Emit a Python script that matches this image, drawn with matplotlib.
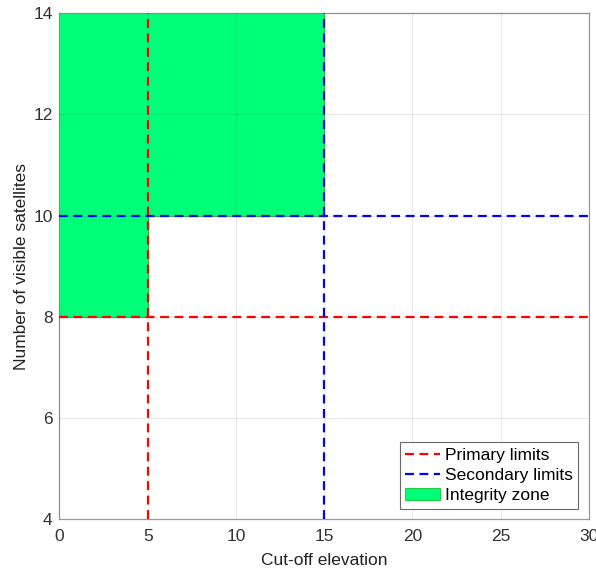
import matplotlib
matplotlib.use("Agg")
import matplotlib.pyplot as plt
from matplotlib.patches import Polygon

plt.rcParams['font.family'] = ['Liberation Sans', 'DejaVu Sans']

# Data
primary_x = 5
primary_y = 8
secondary_x = 15
secondary_y = 10
zone_x = [0, 5, 5, 15, 15, 0]
zone_y = [8, 8, 10, 10, 14, 14]
xlim = (0, 30)
ylim = (4, 14)
xticks = [0, 5, 10, 15, 20, 25, 30]
yticks = [4, 6, 8, 10, 12, 14]

fig = plt.figure(figsize=(5.96, 5.72), dpi=100)
ax = fig.add_axes([0.0998, 0.0927, 0.888, 0.884])

zone = Polygon(list(zip(zone_x, zone_y)), closed=True, facecolor='#00FF78',
               edgecolor='#22CC44', linewidth=0.8, zorder=1, label='Integrity zone')
ax.add_patch(zone)

ax.axvline(primary_x, color='#FF0000', ls=(0, (4, 2.5)), lw=1.6, zorder=3)
ax.axhline(primary_y, color='#FF0000', ls=(0, (4, 2.5)), lw=1.6, zorder=3, label='Primary limits')
ax.axvline(secondary_x, color='#0000FF', ls=(0, (4, 2.5)), lw=1.6, zorder=3)
ax.axhline(secondary_y, color='#0000FF', ls=(0, (4, 2.5)), lw=1.6, zorder=3, label='Secondary limits')

ax.set_xlim(*xlim)
ax.set_ylim(*ylim)
ax.set_xticks(xticks)
ax.set_yticks(yticks)
ax.grid(True, color='#262626', alpha=0.1, lw=0.8, zorder=2)
ax.set_axisbelow(False)
for s in ax.spines.values():
    s.set_color('#9A9A9A')
    s.set_linewidth(0.9)
ax.tick_params(direction='in', length=0, labelsize=12.5, colors='#333333')
ax.tick_params(axis='y', pad=5)
ax.tick_params(axis='x', pad=7)

ax.set_xlabel('Cut-off elevation', fontsize=12.5, color='#222222', labelpad=7)
ax.set_ylabel('Number of visible satellites', fontsize=12.5, color='#222222', labelpad=3)

h, l = ax.get_legend_handles_labels()
order = [l.index('Primary limits'), l.index('Secondary limits'), l.index('Integrity zone')]
leg = ax.legend([h[i] for i in order], [l[i] for i in order], loc='lower right',
                fontsize=12.5, frameon=True, fancybox=False, edgecolor='#444444',
                borderaxespad=0.6, handlelength=2.0, handletextpad=0.3,
                borderpad=0.3, labelspacing=0.3)
leg.get_frame().set_linewidth(0.8)

fig.savefig('out.png', dpi=100)
